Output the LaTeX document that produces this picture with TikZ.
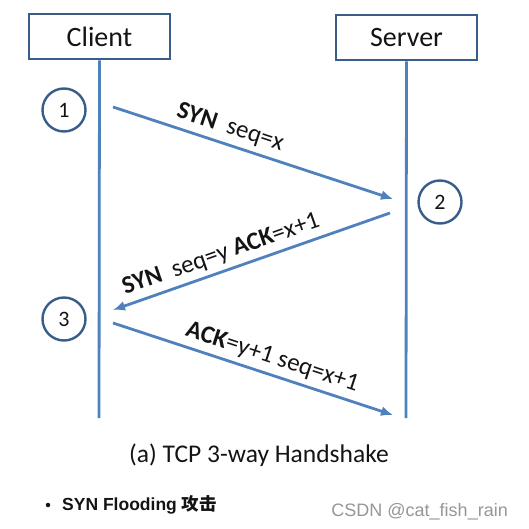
\documentclass[tikz,border=0pt]{standalone}
\usepackage{fontspec}
\setmainfont{Carlito}
\newfontfamily\arialfont{Liberation Sans}
\newfontfamily\cjkfont{Noto Sans CJK SC}
\usetikzlibrary{arrows.meta,positioning,calc}
\definecolor{OfficeBlue}{HTML}{4F81BD}
\definecolor{OutlineBlue}{HTML}{385D8A}
\definecolor{InkBlack}{RGB}{20,20,20}
\definecolor{MarkGray}{RGB}{150,150,150}
\tikzset{
  party/.style   ={rectangle, draw=OutlineBlue, line width=2.6pt, fill=white, text=InkBlack,
                   minimum width=141pt, minimum height=45pt, inner sep=0pt,
                   font=\fontsize{28}{32}\selectfont},
  stepno/.style  ={circle, draw=OutlineBlue, line width=2.4pt, fill=white, text=InkBlack,
                   minimum size=43pt, inner sep=0pt, font=\fontsize{22}{26}\selectfont},
  life/.style    ={draw=OfficeBlue, line width=2.8pt},
  msg/.style     ={-{Latex[length=12pt,width=10pt]}, draw=OfficeBlue, line width=2.8pt},
  msglab/.style  ={sloped, above, inner sep=5pt, text=InkBlack, font=\fontsize{25}{29}\selectfont},
}

\begin{document}
\begin{tikzpicture}[x=1pt,y=-1pt]
  \useasboundingbox (0,0) rectangle (529,529);

  \node[party] (client) at (99.5,36.5) {Client};
  \node[party] (server) at (406.5,37.5) {Server};

  \coordinate (cend) at (99,418);
  \coordinate (send) at (406,418);
  \draw[life] (client.south) -- (cend);
  \draw[life] (server.south) -- (send);

  \node[stepno] (n1) at (64,110) {1};
  \node[stepno] (n2) at (440,202) {2};
  \node[stepno] (n3) at (64,319) {3};

  % message end points
  \coordinate (a1) at (113,107);
  \coordinate (b1) at (393,199);
  \coordinate (a2) at (390,213);
  \coordinate (b2) at (113,310);
  \coordinate (a3) at (113,323);
  \coordinate (b3) at (393,415);

  \draw[msg] (a1) -- node[msglab,pos=.40] {\textbf{SYN}\ \ seq=x} (b1);
  \draw[msg] (a2) -- node[msglab,pos=.59] {\textbf{SYN}\ \ seq=y \textbf{ACK}=x+1} (b2);
  \draw[msg] (a3) -- node[msglab,pos=.55] {\textbf{ACK}=y+1 seq=x+1} (b3);

  \node[text=InkBlack,font=\fontsize{25.5}{29}\selectfont] (cap) at (259,455) {(a) TCP 3-way Handshake};

  \node[circle,fill=InkBlack,inner sep=0pt,minimum size=4.5pt] (dot) at (48,505) {};
  \node[anchor=base west,inner sep=0pt,text=InkBlack,font=\arialfont\bfseries\fontsize{17.5}{20}\selectfont]
    (flood) at (62,510) {SYN Flooding {\cjkfont\bfseries 攻击}};

  \node[anchor=base east,inner sep=0pt,text=MarkGray,font=\arialfont\fontsize{18}{21}\selectfont]
    (mark) at (508,516) {CSDN @cat\_fish\_rain};
\end{tikzpicture}
\end{document}
